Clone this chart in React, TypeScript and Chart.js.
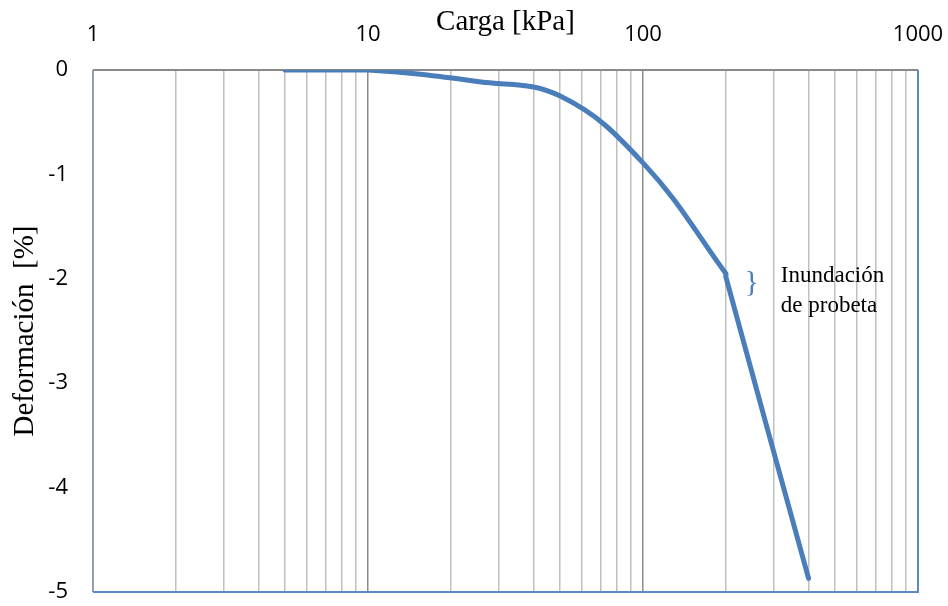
import React, { useEffect, useRef } from "react";
import { Chart, registerables } from "chart.js";

Chart.register(...registerables);

// Data (load steps; the 200 kPa step is repeated before/after flooding)
const cargas = [5, 10, 25, 50, 100, 200, 200, 400];
const deformacion = [0, 0, -0.11, -0.25, -0.89, -1.95, -1.98, -4.87];

// Axis ticks
const xGridValues = [
  1, 2, 3, 4, 5, 6, 7, 8, 9,
  10, 20, 30, 40, 50, 60, 70, 80, 90,
  100, 200, 300, 400, 500, 600, 700, 800, 900,
  1000,
];
const xMajorValues = [1, 10, 100, 1000];
const yTickValues = [0, -1, -2, -3, -4, -5];

const xTitle = "Carga [kPa]";
const yTitle = "Deformación  [%]";
const noteLines = ["Inundación", "de probeta"];
const noteAt = { x: 200, y: -2 };

const LINE_COLOR = "#4a7ebb";
const SERIF = "'Liberation Serif', 'Times New Roman', serif";
const SANS = "'Open Sans', 'Liberation Sans', sans-serif";

const decorPlugin = {
  id: "decor",
  beforeDatasetsDraw(chart: any) {
    const { ctx, chartArea: a } = chart;
    ctx.save();
    ctx.strokeStyle = "#898989";
    ctx.lineWidth = 2;
    ctx.beginPath();
    ctx.moveTo(a.left, a.top);
    ctx.lineTo(a.right, a.top);
    ctx.stroke();
    ctx.strokeStyle = "#7f8ea3";
    ctx.lineWidth = 1.5;
    ctx.beginPath();
    ctx.moveTo(a.left, a.top);
    ctx.lineTo(a.left, a.bottom);
    ctx.stroke();
    ctx.strokeStyle = "#5b8bc6";
    ctx.lineWidth = 2;
    ctx.beginPath();
    ctx.moveTo(a.left, a.bottom);
    ctx.lineTo(a.right, a.bottom);
    ctx.lineTo(a.right, a.top);
    ctx.stroke();
    ctx.restore();
  },
  afterDraw(chart: any) {
    const { ctx, chartArea: a, scales } = chart;
    ctx.save();
    ctx.fillStyle = "#000";
    ctx.font = `29px ${SERIF}`;
    ctx.textAlign = "center";
    ctx.textBaseline = "alphabetic";
    ctx.fillText(xTitle, (a.left + a.right) / 2, a.top - 40);
    ctx.save();
    ctx.translate(a.left - 60, (a.top + a.bottom) / 2);
    ctx.rotate(-Math.PI / 2);
    ctx.fillText(yTitle, 0, 0);
    ctx.restore();
    const px = scales.x.getPixelForValue(noteAt.x);
    const py = scales.y.getPixelForValue(noteAt.y);
    ctx.fillStyle = LINE_COLOR;
    ctx.font = `30px ${SERIF}`;
    ctx.textAlign = "center";
    ctx.textBaseline = "middle";
    ctx.fillText("}", px + 26, py + 4);
    ctx.fillStyle = "#000";
    ctx.font = `23px ${SERIF}`;
    ctx.textAlign = "left";
    ctx.textBaseline = "alphabetic";
    ctx.fillText(noteLines[0], px + 55, py + 3);
    ctx.fillText(noteLines[1], px + 55, py + 33);
    ctx.restore();
  },
};

export default function App() {
  const ref = useRef<HTMLCanvasElement | null>(null);

  useEffect(() => {
    document.body.style.margin = "0";
    const canvas = ref.current!;
    const chart = new Chart(canvas, {
      type: "line",
      data: {
        datasets: [
          {
            data: cargas.map((c, i) => ({ x: c, y: deformacion[i] })),
            borderColor: LINE_COLOR,
            backgroundColor: LINE_COLOR,
            borderWidth: 5,
            borderCapStyle: "round",
            borderJoinStyle: "round",
            pointRadius: 0,
            tension: 0.4,
            fill: false,
            clip: { left: 5, top: 0, right: 5, bottom: 5 } as any,
          },
        ],
      },
      options: {
        animation: false,
        responsive: false,
        devicePixelRatio: 1,
        layout: { padding: { left: 0, top: 0, right: 30, bottom: 14 } },
        plugins: {
          legend: { display: false },
          tooltip: { enabled: false },
        },
        scales: {
          x: {
            type: "logarithmic",
            position: "top",
            min: 1,
            max: 1000,
            afterBuildTicks(scale: any) {
              scale.ticks = xGridValues.map((v) => ({ value: v }));
            },
            afterFit(scale: any) {
              scale.height = 70;
              scale.paddingLeft = 0;
              scale.paddingRight = 0;
              scale.paddingTop = 0;
              scale.paddingBottom = 0;
            },
            ticks: {
              autoSkip: false,
              maxRotation: 0,
              padding: 22,
              color: "#000",
              font: { family: SANS, size: 22 },
              callback: (v: any) =>
                xMajorValues.includes(Number(v)) ? String(v) : "",
            },
            grid: {
              drawTicks: false,
              lineWidth: 1.5,
              color: (c: any) => {
                const v = c.tick ? c.tick.value : 0;
                return v === 10 || v === 100 ? "#8c8c8c" : "#c0c0c0";
              },
            },
            border: { display: false },
          },
          y: {
            type: "linear",
            min: -5,
            max: 0,
            afterBuildTicks(scale: any) {
              scale.ticks = yTickValues.map((v) => ({ value: v }));
            },
            afterFit(scale: any) {
              scale.width = 93;
              scale.paddingLeft = 0;
              scale.paddingRight = 0;
              scale.paddingTop = 0;
              scale.paddingBottom = 0;
            },
            ticks: {
              padding: 25,
              color: "#000",
              font: { family: SANS, size: 22 },
              callback: (v: any) => String(v),
            },
            grid: { drawTicks: false, color: "rgba(0,0,0,0)" },
            border: { display: false },
          },
        },
      },
      plugins: [decorPlugin],
    });
    return () => chart.destroy();
  }, []);

  return (
    <div style={{ width: 948, height: 606, background: "#fff" }}>
      <canvas ref={ref} width={948} height={606} style={{ display: "block" }} />
    </div>
  );
}
